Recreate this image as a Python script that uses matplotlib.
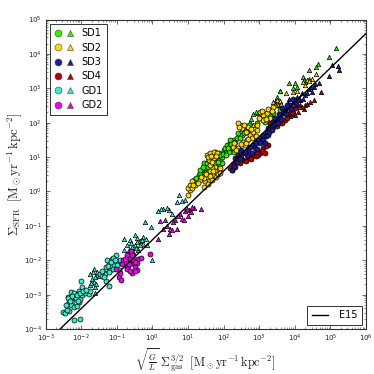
import matplotlib
matplotlib.use('Agg')
import matplotlib.pyplot as plt
from matplotlib.legend_handler import HandlerTuple
from matplotlib.lines import Line2D
import numpy as np

# values, as log10(x), log10(y)
gd1_c_x = [-2.51,-2.45,-2.33,-2.40,-2.37,-2.35,-2.26,-2.29,-2.19,-2.12,-2.07,-2.03,-1.98,-2.10,-2.19,-2.29,-2.37,-2.29,-2.19,-2.07,-1.98,-2.00,-1.89,-1.79,-1.75,-2.19,-2.04,-1.30,-1.23,-1.46,-1.37,-1.30,-1.23,-1.14,-1.01,-1.00,-1.18,-1.28,-1.09,-1.32,-1.42,-0.95,-0.90,-1.11,
           -2.42,-2.38,-2.30,-2.25,-2.15,-2.12,-2.03,-2.10,-1.95,-1.85,-1.40,-1.25,-1.15,-1.05,-1.22,-0.98,-1.35,-1.10]
gd1_c_y = [-3.52,-3.53,-3.48,-3.44,-3.28,-3.22,-3.22,-3.31,-3.36,-3.34,-3.22,-3.12,-3.02,-2.99,-3.05,-3.09,-3.07,-2.92,-2.95,-2.90,-2.78,-2.59,-2.95,-2.97,-2.90,-3.73,-3.72,-2.60,-2.76,-2.41,-2.37,-2.20,-2.05,-1.96,-1.86,-2.05,-2.29,-2.00,-2.15,-2.41,-2.47,-2.29,-1.98,-1.93,
           -3.30,-3.10,-3.18,-3.05,-3.10,-3.00,-2.95,-3.20,-2.90,-2.88,-2.30,-2.18,-2.05,-2.00,-2.35,-2.15,-2.50,-2.25]
gd1_t_x = [-1.75,-1.65,-1.70,-1.65,-1.60,-1.60,-1.56,-1.76,-1.51,-0.79,-0.64,-0.48,-0.42,-0.79,-0.72,-0.57,-0.48,-0.36,-0.25,-0.17,-0.25,-0.15,-0.39,-0.53,-0.67,-0.20,-0.04,0.00,0.17,0.31,0.46,0.55,0.76,0.69,0.83,0.92,
           -1.72,-1.68,-1.62,-1.58,-1.55,-0.65,-0.60,-0.45,-0.35,-0.30,-0.42,-0.72,0.24,0.40]
gd1_t_y = [-2.41,-2.25,-2.54,-2.63,-2.78,-2.95,-2.44,-2.73,-2.47,-1.37,-1.40,-1.26,-1.34,-1.71,-1.57,-1.62,-1.57,-1.44,-1.33,-1.37,-1.52,-1.57,-1.71,-1.76,-1.81,-0.88,-1.04,-2.00,-0.57,-0.50,-0.55,-0.65,-0.09,-0.31,-0.28,-0.26,
           -2.65,-2.35,-2.50,-2.70,-2.35,-1.70,-1.50,-1.65,-1.55,-1.42,-1.48,-1.85,-0.52,-0.47]
gd2_c_x = [-1.01,-0.95,-0.88,-0.92,-0.81,-0.72,-0.60,-0.67,-0.76,-0.57,-0.48,-0.42,-0.57,-0.67,-0.39,-0.32,-0.43,-0.53,-0.06,
           -0.85,-0.75,-0.70,-0.62,-0.62,-0.55,-0.48,-0.58,-0.78,-0.50,-0.65]
gd2_c_y = [-2.25,-2.49,-2.57,-2.37,-2.00,-1.86,-1.73,-1.96,-2.15,-2.08,-2.20,-2.28,-2.37,-2.18,-1.96,-1.93,-2.08,-1.86,-1.83,
           -2.10,-2.05,-2.25,-2.30,-1.95,-2.00,-2.05,-1.85,-1.95,-2.32,-2.10]
gd2_t_x = [0.17,0.31,0.22,0.36,0.50,0.46,0.55,0.64,0.69,0.83,0.78,0.92,0.88,1.03,1.17,1.37,1.11,0.40,0.58,0.72,1.00,1.08,0.96]
gd2_t_y = [-1.37,-1.08,-0.87,-0.84,-1.08,-1.23,-1.13,-0.84,-1.08,-0.79,-0.65,-0.57,-0.84,-0.55,-0.47,-0.51,-0.44,-1.00,-0.90,-0.72,-0.70,-0.60,-0.50]
sd1_c_x = [1.16,1.30,1.39,1.48,1.44,1.53,1.67,1.72,1.81,1.90,1.95,1.86,1.76,2.00,2.04,2.09,2.18,2.23,2.28,2.14,2.04,1.34,1.48,1.90,1.95,2.18,2.32,2.41,2.51,2.60,2.51,2.69,2.93,3.16,3.40,3.58,
           1.22,1.35,1.42,1.55,1.60,1.75,1.85,1.90,1.98,2.08,2.12,2.22,2.30,2.28,2.38,2.45,2.58,2.66,2.72,3.05,3.30,3.50]
sd1_c_y = [0.34,0.48,0.63,0.67,0.82,0.82,0.87,0.92,0.97,0.92,1.01,1.11,1.16,1.21,1.26,1.35,1.40,1.26,1.50,1.16,1.11,0.53,0.53,0.77,0.82,1.50,1.45,1.69,1.74,1.79,1.64,1.84,2.00,2.03,2.27,2.37,
           0.40,0.62,0.72,0.72,0.92,0.82,0.85,1.05,1.10,1.05,1.25,1.38,1.30,1.15,1.55,1.55,1.70,1.72,1.92,2.15,2.20,2.50]
sd1_t_x = [2.74,2.84,2.98,3.44,3.58,5.15,4.97,4.64,4.60,4.41,3.85,3.96,4.06,4.01,4.22,4.26,3.59,2.78,2.90,3.50]
sd1_t_y = [2.03,2.25,2.29,2.61,2.93,4.16,3.91,3.72,3.62,3.53,3.16,3.00,3.04,3.14,3.33,3.24,2.92,2.10,2.30,2.75]
sd2_c_x = [1.01,1.06,0.99,1.06,1.11,1.20,1.34,1.44,1.48,1.58,1.67,1.72,1.81,1.86,1.76,1.67,1.62,1.58,1.53,1.62,1.72,1.81,1.72,1.76,1.90,1.62,1.53,1.44,2.27,2.41,2.55,2.65,2.60,2.46,2.51,2.41,2.74,2.84,2.93,2.69,2.79,3.12,3.21,3.12,3.02,3.30,3.40,
           1.10,1.15,1.28,1.38,1.50,1.55,1.62,1.70,1.78,1.85,1.90,1.55,1.65,1.78,1.68,2.30,2.35,2.48,2.50,2.62,2.70,2.42,2.58,2.62,2.78,2.90,2.95,3.00,3.08,3.18,3.25,3.35]
sd2_c_y = [-0.10,0.03,0.09,0.19,0.29,0.19,0.32,0.14,0.29,0.34,0.34,0.48,0.53,0.63,0.72,0.67,0.77,0.92,1.06,1.11,1.16,1.11,0.97,0.58,0.67,0.58,0.43,0.38,1.30,1.25,1.45,1.50,1.35,1.93,1.84,1.98,1.64,1.74,1.79,1.88,1.54,2.22,2.27,2.08,2.32,2.13,2.47,
           0.10,0.20,0.25,0.42,0.50,0.22,0.45,0.60,0.42,0.50,0.55,1.00,1.02,1.02,0.85,1.40,1.20,1.38,1.15,1.42,1.52,1.88,1.92,1.72,1.82,1.62,1.92,2.15,2.35,2.12,2.40,2.35]
sd2_t_x = [3.40,3.49,3.58,3.54,2.84,4.60,4.48,4.39,4.29,4.23,4.34,4.06,3.95,3.76,3.59,3.59,3.45,3.62,4.30,4.40]
sd2_t_y = [2.61,2.66,2.61,2.51,1.93,3.41,3.28,3.28,3.19,3.19,3.24,2.92,2.90,2.87,2.64,2.51,2.50,2.55,3.10,3.20]
sd3_c_x = [2.24,2.32,2.41,2.55,2.69,2.84,2.98,3.07,3.21,3.30,3.40,3.49,3.58,3.72,3.86,4.00,4.10,2.37,2.65,2.88,3.12,3.26,3.44,3.68,3.82,
           2.28,2.45,2.50,2.60,2.75,2.80,2.92,2.95,3.03,3.10,3.15,3.18,3.25,3.28,3.35,3.38,3.45,3.52,3.55,3.62,3.65,3.75,3.78,3.90,3.95]
sd3_c_y = [0.62,0.96,1.06,1.11,1.21,1.35,1.50,1.59,1.74,1.88,1.93,2.08,2.17,2.37,2.51,2.61,2.66,0.87,1.06,1.25,1.50,1.84,2.13,2.27,2.47,
           0.75,0.95,1.20,1.15,1.30,1.12,1.40,1.22,1.40,1.65,1.40,1.60,1.65,1.72,1.80,2.02,1.95,2.00,2.25,2.12,2.42,2.25,2.50,2.40,2.68]
sd3_t_x = [3.82,3.96,4.06,4.20,4.39,4.53,4.67,5.04,4.95,5.20,5.23,3.92,4.15,4.29,4.48,4.10,3.85,4.00,4.12,4.22,4.35,4.45,4.58]
sd3_t_y = [2.56,2.61,2.75,2.85,2.99,3.04,3.14,3.67,3.35,3.64,3.53,2.41,2.65,2.80,2.90,2.51,2.70,2.50,2.72,2.70,2.85,3.05,3.12]
sd4_c_x = [2.18,2.27,2.41,2.55,2.69,2.84,2.98,3.12,3.26,3.02,3.30,3.44,3.58,3.72,3.86,4.00,2.74,3.35,
           2.25,2.32,2.35,2.47,2.50,2.62,2.78,2.90,2.95,3.07,3.15,3.20,3.38,3.50,3.65,3.78,3.92]
sd4_c_y = [0.67,0.80,0.87,0.91,1.01,1.06,1.06,1.25,1.35,1.11,1.98,1.98,2.03,2.08,2.27,2.42,0.96,2.13,
           0.62,0.72,0.88,0.82,0.98,0.88,0.95,1.02,1.15,1.18,1.12,1.32,1.88,1.90,1.98,2.15,2.32]
sd4_t_x = [4.74,4.15,4.25,3.96,4.29,4.53,4.01,3.87,4.10,3.80,3.92,4.05,4.20,4.35,4.42]
sd4_t_y = [2.88,2.51,2.41,2.36,2.51,2.65,2.22,2.19,2.32,2.25,2.25,2.45,2.45,2.55,2.60]

e15_x = [1e-3, 1e6]
e15_y = [3.9e-5, 3.9e4]

names = ['SD1', 'SD2', 'SD3', 'SD4', 'GD1', 'GD2']
colors = ['#33ee00', '#ffd700', '#1a1a99', '#b30000', '#33eecc', '#ee00ee']
circles = [(sd1_c_x, sd1_c_y), (sd2_c_x, sd2_c_y), (sd3_c_x, sd3_c_y), (sd4_c_x, sd4_c_y), (gd1_c_x, gd1_c_y), (gd2_c_x, gd2_c_y)]
triangles = [(sd1_t_x, sd1_t_y), (sd2_t_x, sd2_t_y), (sd3_t_x, sd3_t_y), (sd4_t_x, sd4_t_y), (gd1_t_x, gd1_t_y), (gd2_t_x, gd2_t_y)]

plt.rcParams['font.family'] = 'DejaVu Sans'
fig = plt.figure(figsize=(3.74, 3.74), dpi=100)
ax = fig.add_axes([45.5/374, 1 - 329/374, 320.5/374, 309.5/374])

# red goes under the others, then blue on top of it
order = [3, 0, 1, 2, 4, 5]
for i in order:
    cx, cy = circles[i]
    tx, ty = triangles[i]
    ax.scatter(10**np.array(tx), 10**np.array(ty), marker='^', s=10, c=colors[i],
               edgecolors='k', linewidths=0.5, zorder=2)
    ax.scatter(10**np.array(cx), 10**np.array(cy), marker='o', s=13, c=colors[i],
               edgecolors='k', linewidths=0.5, zorder=2)

line, = ax.plot(e15_x, e15_y, color='k', lw=1, zorder=3, label='E15')

ax.set_xscale('log')
ax.set_yscale('log')
ax.set_xlim(1e-3, 1e6)
ax.set_ylim(1e-4, 1e5)
ax.tick_params(which='both', direction='in', top=True, right=True, labelsize=5, pad=2.5, color='#333333', labelcolor='#222222')
ax.tick_params(which='major', length=3, width=0.5)
ax.tick_params(which='minor', length=1.5, width=0.4)
ax.xaxis.set_major_locator(matplotlib.ticker.LogLocator(base=10, numticks=12))
ax.yaxis.set_major_locator(matplotlib.ticker.LogLocator(base=10, numticks=12))
ax.xaxis.set_minor_locator(matplotlib.ticker.LogLocator(base=10, subs=np.arange(2, 10), numticks=12))
ax.yaxis.set_minor_locator(matplotlib.ticker.LogLocator(base=10, subs=np.arange(2, 10), numticks=12))
ax.xaxis.set_minor_formatter(matplotlib.ticker.NullFormatter())
ax.yaxis.set_minor_formatter(matplotlib.ticker.NullFormatter())
for s in ax.spines.values():
    s.set_linewidth(0.8)
    s.set_color('#333333')

ax.set_xlabel(r'$\sqrt{\frac{G}{L}}\;\Sigma_{\rm gas}^{3/2}\;\;[{\rm M_\odot yr^{-1}\,kpc^{-2}}]$',
              fontsize=8.8, math_fontfamily='cm', color='#222222', va='center')
ax.xaxis.set_label_coords(0.5, -0.1)
ax.set_ylabel(r'$\Sigma_{\rm SFR}\;\;[{\rm M_\odot yr^{-1}\,kpc^{-2}}]$',
              fontsize=9.2, math_fontfamily='cm', color='#222222', va='center')
ax.yaxis.set_label_coords(-0.098, 0.5)

handles = []
for c in colors:
    h1 = Line2D([], [], ls='', marker='o', ms=5, mfc=c, mec='#444444', mew=0.4)
    h2 = Line2D([], [], ls='', marker='^', ms=5, mfc=c, mec='#444444', mew=0.4)
    handles.append((h1, h2))
leg1 = ax.legend(handles, names, handler_map={tuple: HandlerTuple(ndivide=None, pad=0.3)},
                 loc='upper left', fontsize=7, fancybox=False, edgecolor='#333333', framealpha=1,
                 handlelength=2.0, labelspacing=0.45, handletextpad=0.8, borderpad=0.45, borderaxespad=0.45)
leg1.get_frame().set_linewidth(0.7)
ax.add_artist(leg1)
leg2 = ax.legend([line], ['E15'], loc='lower right', fontsize=7, fancybox=False, edgecolor='#333333',
                 framealpha=1, handlelength=1.7, handletextpad=1.1, borderpad=0.45, borderaxespad=0.45)
leg2.get_frame().set_linewidth(0.7)

fig.savefig('out.png', dpi=100)
